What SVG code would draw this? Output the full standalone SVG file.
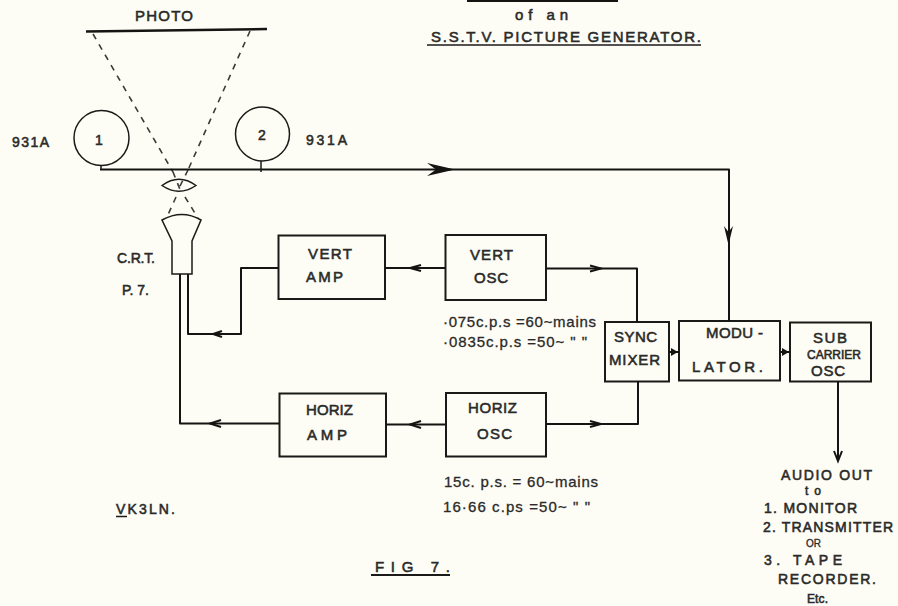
<svg xmlns="http://www.w3.org/2000/svg" width="898" height="606" viewBox="0 0 898 606">
<style>
text{font-family:"Liberation Sans",Arial,sans-serif;font-weight:normal;fill:#2a2a28;stroke:#2a2a28;stroke-width:.55;font-size:15px;text-anchor:start}
.s{font-size:12px}
.m{font-size:14px}
.c{font-size:12px}
.n{font-size:15px;stroke-width:.3}
.b{fill:none;stroke:#1a1a18;stroke-width:2}
.w{fill:none;stroke:#141412;stroke-width:2;stroke-linejoin:round}
.t{fill:none;stroke:#1a1a18;stroke-width:1.500}
.d{fill:none;stroke:#3a3a38;stroke-width:1.600;stroke-dasharray:6 6}
.a{fill:none;stroke:#141412;stroke-width:2}
.h{fill:#141412;stroke:none}
</style>
<rect width="898" height="606" fill="#fdfcf5"/>
<g id="title">
<path d="M467 1H618" class="w"/>
<text x="515" y="20" textLength="53" lengthAdjust="spacing">of an</text>
<text x="431" y="42" textLength="270" lengthAdjust="spacing">S.S.T.V.  PICTURE  GENERATOR.</text>
<path d="M427 45H701" class="t"/>
</g>
<g id="photo">
<text x="135" y="21" textLength="58" lengthAdjust="spacing">PHOTO</text>
<path d="M86 31.500L267 29" stroke="#141412" stroke-width="2.500" fill="none"/>
</g>
<g id="tube1">
<circle cx="101.500" cy="138" r="27.500" class="t"/>
<text x="95" y="145" class="m">1</text>
<text x="12" y="147" textLength="37" lengthAdjust="spacing" class="m">931A</text>
<path d="M101 165V170" class="t"/>
</g>
<g id="tube2">
<circle cx="262.500" cy="134" r="27" class="t"/>
<text x="258" y="140" class="m">2</text>
<text x="306" y="145" textLength="41" lengthAdjust="spacing" class="m">931A</text>
<path d="M261 161V172" class="t"/>
</g>
<g id="lens">
<path d="M162 185.500Q179 173 196 185.500Q179 197 162 185.500Z" class="t"/>
</g>
<g id="crt">
<path d="M162 220Q182 209 201 220L192 241V274H172V241Z" class="t"/>
<text x="117" y="263" textLength="38" lengthAdjust="spacing" class="m">C.R.T.</text>
<text x="122" y="295" textLength="27" lengthAdjust="spacing" class="m">P. 7.</text>
</g>
<g id="vert-amp">
<rect x="278.500" y="235.500" width="106.500" height="63.500" class="b"/>
<text x="308" y="259" textLength="44" lengthAdjust="spacing">VERT</text><text x="306" y="282" textLength="37" lengthAdjust="spacing">AMP</text>
</g>
<g id="vert-osc">
<rect x="445.500" y="235" width="100.500" height="65" class="b"/>
<text x="470" y="260" textLength="43" lengthAdjust="spacing">VERT</text><text x="474" y="283" textLength="34" lengthAdjust="spacing">OSC</text>
</g>
<g id="horiz-amp">
<rect x="279.500" y="393.500" width="106.500" height="63" class="b"/>
<text x="306" y="415" textLength="47" lengthAdjust="spacing">HORIZ</text><text x="307" y="440" textLength="40" lengthAdjust="spacing">AMP</text>
</g>
<g id="horiz-osc">
<rect x="446" y="393" width="100" height="63.500" class="b"/>
<text x="468" y="413" textLength="49" lengthAdjust="spacing">HORIZ</text><text x="477" y="439" textLength="35" lengthAdjust="spacing">OSC</text>
</g>
<g id="sync-mixer">
<rect x="605" y="322" width="64" height="59.500" class="b"/>
<text x="614" y="342" textLength="43" lengthAdjust="spacing">SYNC</text><text x="609" y="365" textLength="51" lengthAdjust="spacing">MIXER</text>
</g>
<g id="modulator">
<rect x="679" y="321" width="101" height="59.500" class="b"/>
<text x="706" y="338" textLength="57" lengthAdjust="spacing">MODU -</text><text x="692" y="372" textLength="71" lengthAdjust="spacing">LATOR.</text>
</g>
<g id="sub-carrier">
<rect x="790" y="322.500" width="81" height="59" class="b"/>
<text x="813" y="343" textLength="34" lengthAdjust="spacing">SUB</text><text x="807" y="359" textLength="54" lengthAdjust="spacing" class="c">CARRIER</text><text x="811" y="376" textLength="34" lengthAdjust="spacing">OSC</text>
</g>
<g id="notes">
<text x="443" y="327" textLength="153" lengthAdjust="spacing" class="n">·075c.p.s =60~mains</text>
<text x="443" y="347" textLength="144" lengthAdjust="spacing" class="n">·0835c.p.s =50~ "  "</text>
<text x="444" y="487" textLength="154" lengthAdjust="spacing" class="n">15c. p.s. = 60~mains</text>
<text x="443" y="512" textLength="147" lengthAdjust="spacing" class="n">16·66 c.ps =50~ "  "</text>
<text x="116" y="514" textLength="59" lengthAdjust="spacing" class="m">VK3LN.</text>
<text x="375" y="572" textLength="75" lengthAdjust="spacing">FIG   7.</text>
<path d="M371 575H450" class="b"/>
<path d="M116 516.500H127" class="t"/>
</g>
<g id="audio">
<text x="781" y="480" textLength="91" lengthAdjust="spacing" class="m">AUDIO  OUT</text>
<text x="805" y="495" class="s" textLength="16" lengthAdjust="spacing">to</text>
<text x="764" y="513" textLength="93" lengthAdjust="spacing" class="m">1. MONITOR</text>
<text x="763" y="532" textLength="130" lengthAdjust="spacing" class="m">2. TRANSMITTER</text>
<text x="806" y="547" textLength="15" lengthAdjust="spacing" style="font-size:10px;stroke-width:.3">OR</text>
<text x="764" y="565" textLength="78" lengthAdjust="spacing" class="m">3.  TAPE</text>
<text x="778" y="584" textLength="98" lengthAdjust="spacing" class="m">RECORDER.</text>
<text x="807" y="603" class="s" textLength="21" lengthAdjust="spacing">Etc.</text>
</g>
<g id="connectors">
<path d="M93 34L173 172M250 31L188 170M173 172L181 192M188 170L177 192M176 197L167 217M185 197L198 218" class="d"/>
<path d="M100 169.500H729V321" class="w"/>
<path class="h" d="M427 163L455 169.500L427 176L436 169.500ZM724 226L728.500 245L733 226L728.500 232Z"/>
<path d="M445 268H385" class="w"/>
<path d="M278 268H241V334H188V274" class="w"/>
<path d="M180 274V423.500H279" class="w"/>
<path d="M445 424.500H386" class="w"/>
<path d="M546 268.500H637V322M546 424H638V381" class="w"/>
<path d="M669 352H679M780 352H790" class="w"/>
<path d="M838 381V461" class="w"/>
<path d="M421 265L410 268L421 271M222 331L213 334L222 337M221 420L210 423.500L221 427M421 421L410 424.500L421 428M590 265.500L601 268.500L590 271.500M590 421L601 424L590 427M834 451L838 461L842 451" class="a"/>
<path d="M671 348L678 352L671 356ZM782 348L789 352L782 356Z" class="h"/>
</g>
</svg>
